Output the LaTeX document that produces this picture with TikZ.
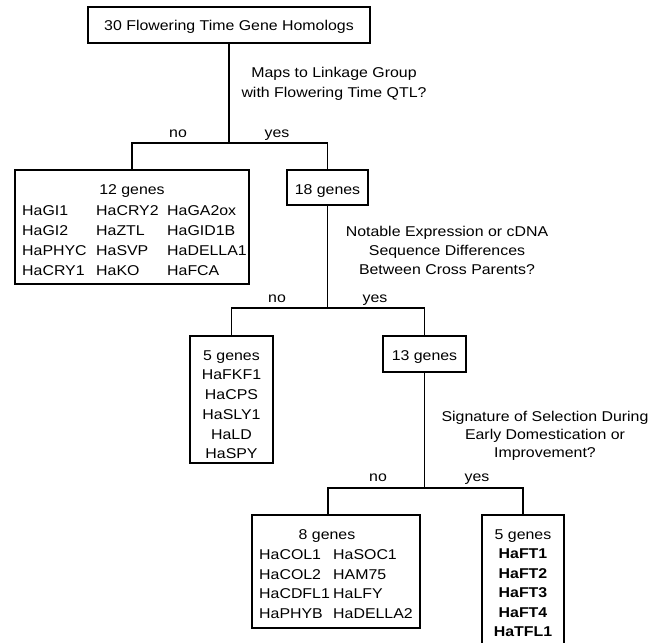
\documentclass[tikz,border=0pt]{standalone}
\usepackage{fontspec}
\setmainfont{Liberation Sans}[FakeStretch=1.12]
\newcommand\labfont{\fontsize{14.2}{18}\selectfont}
\begin{document}
\begin{tikzpicture}[x=1pt,y=-1pt,
  box/.style={draw, line width=1.4pt, inner sep=0pt},
  t/.style={inner sep=0pt, anchor=base, font=\labfont},
  tw/.style={inner sep=0pt, anchor=base west, font=\labfont},
  tb/.style={inner sep=0pt, anchor=base, font=\labfont\bfseries},
  link/.style={line width=1.4pt}]
\useasboundingbox (0,0) rectangle (663,642);

% level 0
\node[box, minimum width=282, minimum height=36] (top) at (229,25) {};
\node[t] (toptxt) at (229,31) {30 Flowering Time Gene Homologs};
\node[t] (q1a) at (334,77) {Maps to Linkage Group};
\node[t] (q1b) at (334,97) {with Flowering Time QTL?};
\node[t] (no1) at (178,137) {no};
\node[t] (yes1) at (277,137) {yes};
\coordinate (j1) at (229,143);

% level 1
\node[box, minimum width=234, minimum height=114] (g12) at (132,227) {};
\node[t] (g12t) at (132,194) {12 genes};
\foreach \a/\b/\c [count=\i] in {HaGI1/HaCRY2/HaGA2ox, HaGI2/HaZTL/HaGID1B, HaPHYC/HaSVP/HaDELLA1, HaCRY1/HaKO/HaFCA}{
  \node[tw] (g12a\i) at (22,195+20*\i) {\a};
  \node[tw] (g12b\i) at (96,195+20*\i) {\b};
  \node[tw] (g12c\i) at (167,195+20*\i) {\c};
}
\node[box, minimum width=81, minimum height=35] (g18) at (327.5,187.5) {};
\node[t] (g18t) at (327.5,194) {18 genes};

\node[t] (q2a) at (447,236) {Notable Expression or cDNA};
\node[t] (q2b) at (447,255) {Sequence Differences};
\node[t] (q2c) at (447,274) {Between Cross Parents?};
\node[t] (no2) at (277,302) {no};
\node[t] (yes2) at (375,302) {yes};
\coordinate (j2) at (327.5,308);

% level 2
\node[box, minimum width=83, minimum height=127] (g5a) at (231.5,399.5) {};
\foreach \g/\y [count=\i] in {5 genes/360, HaFKF1/379.5, HaCPS/399, HaSLY1/419, HaLD/439, HaSPY/458.5}{
  \node[t] (g5a\i) at (231.5,\y) {\g};
}
\node[box, minimum width=83, minimum height=36] (g13) at (424.5,354) {};
\node[t] (g13t) at (424.5,360) {13 genes};

\node[t] (q3a) at (545,421) {Signature of Selection During};
\node[t] (q3b) at (545,439) {Early Domestication or};
\node[t] (q3c) at (545,457) {Improvement?};
\node[t] (no3) at (378,481) {no};
\node[t] (yes3) at (477,481) {yes};
\coordinate (j3) at (424.5,488);

% level 3
\node[box, minimum width=168, minimum height=113] (g8) at (336,571.5) {};
\node[t] (g8t) at (327,539) {8 genes};
\foreach \a/\b/\y [count=\i] in {HaCOL1/HaSOC1/559, HaCOL2/HAM75/579, HaCDFL1/HaLFY/598, HaPHYB/HaDELLA2/618}{
  \node[tw] (g8a\i) at (259,\y) {\a};
  \node[tw] (g8b\i) at (333,\y) {\b};
}
\node[box, minimum width=82, minimum height=137] (g5b) at (523,583.5) {};
\node[t] (g5bt) at (523,539) {5 genes};
\foreach \g/\y [count=\i] in {HaFT1/558, HaFT2/578, HaFT3/597, HaFT4/617, HaTFL1/636}{
  \node[tb] (g5b\i) at (523,\y) {\g};
}

% connectors
\draw[link] (top.south) -- (j1);
\draw[link] (g12.north) |- (j1) -| (g18.north);
\draw[link] (g18.south) -- (j2);
\draw[link] (g5a.north) |- (j2) -| (g13.north);
\draw[link] (g13.south) -- (j3);
\draw[link] ([xshift=-8pt]g8.north) |- (j3) -| (g5b.north);
\end{tikzpicture}
\end{document}
